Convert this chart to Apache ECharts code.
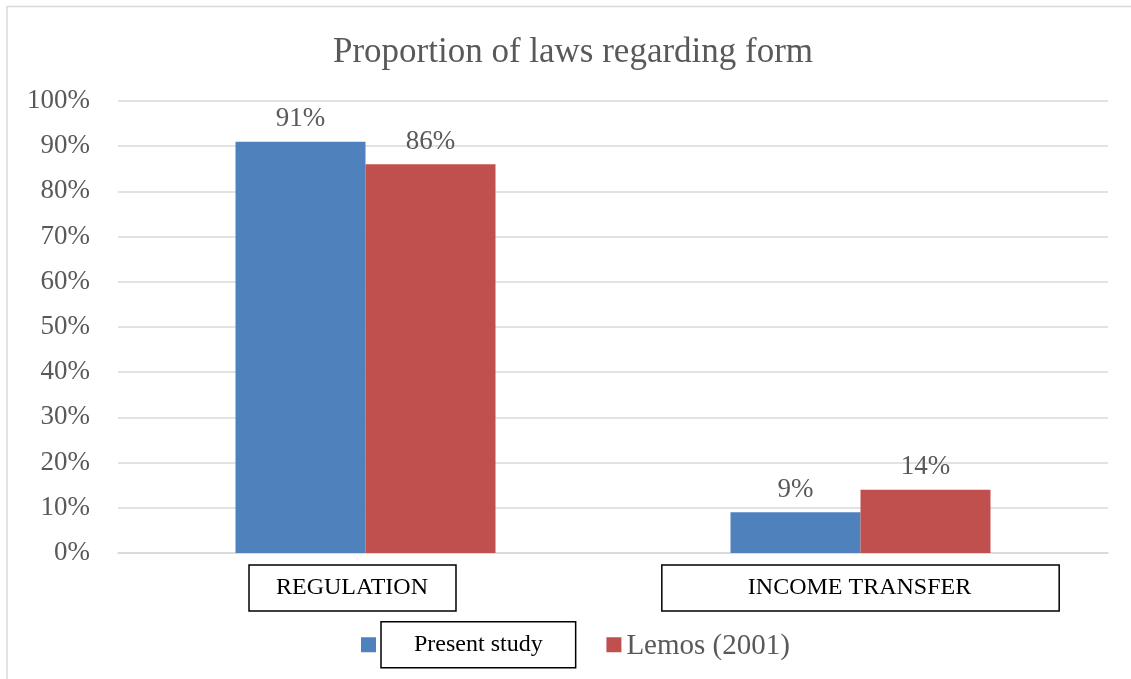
<!DOCTYPE html>
<html>
<head>
<meta charset="utf-8">
<script src="https://cdn.jsdelivr.net/npm/echarts@6/dist/echarts.min.js"></script>
<style>
html,body{margin:0;padding:0;background:#fff;}
#chart{width:1131px;height:679px;}
</style>
</head>
<body>
<div id="chart"></div>
<script>
const titleText = 'Proportion of laws regarding form';
const categories = ['REGULATION', 'INCOME TRANSFER'];
const seriesNames = ['Present study', 'Lemos (2001)'];
const presentStudy = [91, 9];
const lemos2001 = [86, 14];
const yTicks = [0, 10, 20, 30, 40, 50, 60, 70, 80, 90, 100];

const serif = '"Liberation Serif", "Times New Roman", serif';
const chart = echarts.init(document.getElementById('chart'));

const labelStyle = {
  show: true,
  position: 'top',
  distance: 9,
  formatter: p => p.value + '%',
  fontFamily: serif,
  fontSize: 27,
  color: '#595959'
};

chart.setOption({
  animation: false,
  backgroundColor: '#fff',
  graphic: [{
    type: 'rect',
    shape: { x: 7, y: 6.5, width: 1200, height: 700 },
    style: { fill: 'none', stroke: '#d9d9d9', lineWidth: 1.5 },
    silent: true
  }],
  title: {
    text: titleText,
    left: 568,
    textAlign: 'center',
    top: 30,
    textStyle: { fontFamily: serif, fontSize: 35, fontWeight: 'normal', color: '#595959' }
  },
  grid: { left: 118, right: 23, top: 101, bottom: 126, containLabel: false },
  legend: {
    left: 356,
    top: 616,
    itemWidth: 15,
    itemHeight: 15,
    itemGap: 30,
    icon: 'rect',
    data: seriesNames,
    formatter: name => name === seriesNames[0] ? '{p|' + name + '}' : '{l|' + name + '}',
    textStyle: {
      fontFamily: serif,
      rich: {
        p: { fontFamily: serif, fontSize: 24, lineHeight: 24, color: '#000', borderColor: '#000', borderWidth: 1.5, padding: [11, 33, 11, 33] },
        l: { fontFamily: serif, fontSize: 29, lineHeight: 30, color: '#595959', padding: [4, 0, 0, 0] }
      }
    }
  },
  xAxis: {
    type: 'category',
    data: categories,
    axisTick: { show: false },
    axisLine: { lineStyle: { color: '#d9d9d9', width: 1.5 } },
    axisLabel: {
      margin: 23,
      interval: 0,
      formatter: v => v === categories[0] ? '{a|' + v + '}{s| }' : '{b|' + v + '}',
      rich: {
        a: { fontFamily: serif, fontSize: 24, lineHeight: 24, color: '#000', borderColor: '#000', borderWidth: 1.5, padding: [11, 28, 11, 27] },
        b: { fontFamily: serif, fontSize: 24, lineHeight: 24, color: '#000', borderColor: '#000', borderWidth: 1.5, padding: [11, 88, 11, 86] },
        s: { width: 26, fontSize: 24 }
      }
    }
  },
  yAxis: {
    type: 'value',
    min: yTicks[0],
    max: yTicks[yTicks.length - 1],
    interval: 10,
    axisLine: { show: false },
    axisTick: { show: false },
    splitLine: { lineStyle: { color: '#d9d9d9', width: 1.5 } },
    axisLabel: {
      margin: 28,
      formatter: '{value}%',
      fontFamily: serif,
      fontSize: 27,
      color: '#595959'
    }
  },
  series: [
    {
      name: seriesNames[0],
      type: 'bar',
      data: presentStudy,
      barWidth: 130,
      barGap: 0,
      itemStyle: { color: '#4f81bd' },
      label: labelStyle
    },
    {
      name: seriesNames[1],
      type: 'bar',
      data: lemos2001,
      barWidth: 130,
      barGap: 0,
      itemStyle: { color: '#c0504d' },
      label: labelStyle
    }
  ]
});
</script>
</body>
</html>
